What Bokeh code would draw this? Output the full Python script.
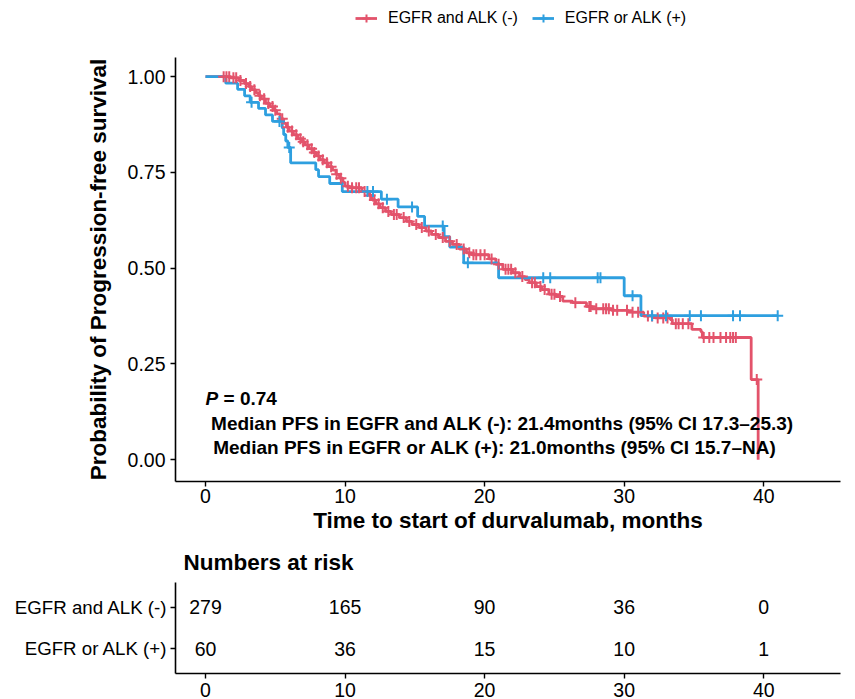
import numpy as np
from bokeh.plotting import figure
from bokeh.models import Range1d, FixedTicker, Legend, LegendItem, Label, ColumnDataSource
from bokeh.layouts import column
from bokeh.core.properties import value
from bokeh.embed import file_html
from bokeh.resources import INLINE

# ---------------- data ----------------
group_names = ["EGFR and ALK (-)", "EGFR or ALK (+)"]
colors = ["#E3536B", "#2E9FDF"]

# EGFR and ALK (-) : step times and survival after each step
neg_time = [0, 1.8, 2.4, 2.8, 3.1, 3.3, 3.6, 3.8, 4.0, 4.3, 4.6, 4.9, 5.1, 5.35, 5.6, 5.8, 6.0,
            6.3, 6.6, 6.9, 7.1, 7.4, 7.7, 7.95, 8.2, 8.5, 8.8, 9.1, 9.35, 9.6, 9.85, 10.0,
            10.3, 11.2, 11.7, 11.95, 12.2, 12.5, 12.9, 13.3, 13.9, 14.4, 14.8, 15.3, 15.8,
            16.2, 16.7, 17.2, 17.7, 18.2, 18.7, 19.1, 20.3, 20.8, 21.3, 22.0, 22.5, 22.9,
            23.2, 23.7, 24.1, 24.6, 25.1, 25.6, 26.3, 27.3, 27.7, 29.1, 30.3, 31.4, 32.2,
            33.3, 33.45, 34.85, 35.5, 35.6, 39.1, 39.6]
neg_surv = [1.0, 0.997, 0.99, 0.982, 0.974, 0.966, 0.958, 0.95, 0.942, 0.93, 0.922, 0.912, 0.903,
            0.89, 0.878, 0.868, 0.858, 0.848, 0.838, 0.83, 0.822, 0.812, 0.802, 0.793, 0.783,
            0.775, 0.765, 0.756, 0.745, 0.735, 0.724, 0.714, 0.71, 0.70, 0.69, 0.678, 0.668,
            0.658, 0.648, 0.64, 0.632, 0.622, 0.614, 0.606, 0.597, 0.588, 0.58, 0.57, 0.562,
            0.55, 0.54, 0.535, 0.524, 0.51, 0.497, 0.488, 0.478, 0.47, 0.462, 0.452, 0.444,
            0.432, 0.426, 0.414, 0.41, 0.40, 0.394, 0.39, 0.385, 0.375, 0.37, 0.366, 0.355,
            0.34, 0.334, 0.319, 0.209, 0.0]
neg_censor = [1.3, 1.5, 1.7, 2.0, 2.2, 2.5, 2.9, 3.2, 3.5, 3.9, 4.2, 4.5, 4.8, 5.0, 5.5, 5.9,
              6.2, 6.5, 6.8, 7.0, 7.3, 7.6, 7.8, 8.1, 8.4, 8.7, 9.0, 9.4, 9.7, 10.2, 10.5,
              10.8, 11.0, 11.4, 11.8, 12.1, 12.4, 12.7, 13.1, 13.5, 13.7, 14.2, 14.6, 15.1,
              15.5, 16.0, 16.5, 17.0, 17.5, 18.0, 18.5, 18.9, 19.2, 19.4, 19.7, 20.0, 20.5,
              21.0, 21.5, 21.7, 21.9, 22.2, 22.7, 23.4, 23.6, 24.0, 24.3, 24.8, 25.0, 25.4,
              26.5, 27.5, 27.6, 28.0, 28.5, 28.7, 28.9, 29.2, 29.5, 30.2, 30.6, 31.0, 31.7,
              32.0, 32.4, 32.8, 33.1, 33.7, 33.9, 34.2, 34.6, 35.7, 36.1, 36.4, 36.9, 37.3,
              37.6, 37.8, 38.0, 39.5]

# EGFR or ALK (+)
pos_time = [0, 1.45, 2.3, 2.8, 3.2, 3.8, 4.3, 4.8, 5.5, 5.6, 5.75, 5.9, 6.1, 7.9, 8.1, 8.9,
            9.8, 12.6, 13.8, 15.2, 15.7, 17.1, 17.5, 18.5, 21.0, 30.0, 31.2, 41.0]
pos_surv = [1.0, 0.983, 0.967, 0.95, 0.933, 0.917, 0.90, 0.883, 0.866, 0.849, 0.832, 0.815,
            0.775, 0.757, 0.739, 0.721, 0.70, 0.68, 0.66, 0.635, 0.61, 0.582, 0.555, 0.514,
            0.475, 0.428, 0.376, 0.376]
pos_censor = [3.3, 5.3, 6.0, 11.6, 12.0, 13.0, 14.8, 17.0, 18.8, 24.2, 24.7, 28.1, 28.3,
              30.6, 32.0, 33.0, 34.7, 35.5, 37.8, 38.3, 41.0]

risk_times = [0, 10, 20, 30, 40]
risk_neg = [279, 165, 90, 36, 0]
risk_pos = [60, 36, 15, 10, 1]

x_ticks = [0, 10, 20, 30, 40]
y_ticks = [0, 0.25, 0.5, 0.75, 1.0]
y_tick_labels = ["0.00", "0.25", "0.50", "0.75", "1.00"]

FONT = "Liberation Sans"
LW = 2.8


def surv_at(times, surv, t):
    idx = np.searchsorted(np.asarray(times), np.asarray(t), side="right") - 1
    return np.asarray(surv)[idx]


def style_axes(p):
    for ax in (p.xaxis[0], p.yaxis[0]):
        ax.axis_line_color = "black"
        ax.axis_line_width = 1.6
        ax.major_tick_line_color = "black"
        ax.major_tick_line_width = 1.4
        ax.major_tick_out = 5
        ax.major_tick_in = 0
        ax.minor_tick_line_color = None
        ax.major_label_text_font = FONT
        ax.major_label_text_color = "black"
        ax.axis_label_text_font = FONT
        ax.axis_label_text_font_style = "bold"
        ax.axis_label_text_color = "black"
    p.xgrid.grid_line_color = None
    p.ygrid.grid_line_color = None
    p.outline_line_color = None


# ---------------- legend strip ----------------
lg = figure(width=855, height=36, output_backend="svg", toolbar_location=None,
            x_range=Range1d(0, 1), y_range=Range1d(0, 1),
            x_axis_location=None, y_axis_location=None,
            min_border_left=0, min_border_right=0, min_border_top=0, min_border_bottom=0)
lg.xgrid.grid_line_color = None
lg.ygrid.grid_line_color = None
lg.outline_line_color = None
items = []
for name, c in zip(group_names, colors):
    # proxy renderers placed outside the visible range, used only for legend keys
    r1 = lg.line([-5, -4], [-5, -5], line_color=c, line_width=LW)
    r2 = lg.scatter([-5], [-5], marker="cross", size=11, line_color=c, line_width=2)
    items.append(LegendItem(label=name, renderers=[r1, r2]))
legend = Legend(items=items, orientation="horizontal", location=(180, 8),
                label_text_font=FONT, label_text_font_size="16px", label_text_color="black",
                glyph_width=22, glyph_height=20, label_standoff=11, spacing=14,
                padding=0, margin=0, border_line_alpha=0, background_fill_alpha=0)
lg.add_layout(legend)

# ---------------- main KM plot ----------------
p = figure(width=855, height=504, output_backend="svg", toolbar_location=None,
           x_range=Range1d(-2.15, 45.5), y_range=Range1d(-0.057, 1.05),
           min_border_left=175, min_border_right=15, min_border_top=21, min_border_bottom=59)
style_axes(p)
p.xaxis.ticker = FixedTicker(ticks=x_ticks)
p.yaxis.ticker = FixedTicker(ticks=y_ticks)
p.yaxis.major_label_overrides = {t: l for t, l in zip(y_ticks, y_tick_labels)}
p.xaxis.major_label_text_font_size = "19.5px"
p.yaxis.major_label_text_font_size = "19.5px"
p.xaxis.axis_label = "Time to start of durvalumab, months"
p.yaxis.axis_label = "Probability of Progression-free survival"
p.xaxis.axis_label_text_font_size = "22.5px"
p.yaxis.axis_label_text_font_size = "22.5px"
p.xaxis.major_label_standoff = 2
p.xaxis.axis_label_standoff = 2
p.yaxis.major_label_standoff = 5
p.yaxis.axis_label_standoff = 14

p.step(neg_time, neg_surv, mode="after", line_color=colors[0], line_width=LW)
p.step(pos_time, pos_surv, mode="after", line_color=colors[1], line_width=LW)
p.scatter(neg_censor, surv_at(neg_time, neg_surv, neg_censor), marker="cross", size=11,
          line_color=colors[0], line_width=2)
p.scatter(pos_censor, surv_at(pos_time, pos_surv, pos_censor), marker="cross", size=11,
          line_color=colors[1], line_width=2)

# annotations
p.add_layout(Label(x=0, y=0.159, text="P", text_font=FONT, text_font_size="19px",
                   text_font_style="bold italic", text_baseline="middle", text_color="black"))
p.add_layout(Label(x=0, y=0.159, x_offset=18, text="= 0.74", text_font=FONT,
                   text_font_size="19px", text_font_style="bold", text_baseline="middle",
                   text_color="black"))
p.add_layout(Label(x=0.4, y=0.094,
                   text="Median PFS in EGFR and ALK (-): 21.4months (95% CI 17.3\u201325.3)",
                   text_font=FONT, text_font_size="19px", text_font_style="bold",
                   text_baseline="middle", text_color="black"))
p.add_layout(Label(x=0.55, y=0.031,
                   text="Median PFS in EGFR or ALK (+): 21.0months (95% CI 15.7\u2013NA)",
                   text_font=FONT, text_font_size="19px", text_font_style="bold",
                   text_baseline="middle", text_color="black"))

# ---------------- risk table ----------------
t = figure(width=855, height=159, output_backend="svg", toolbar_location=None,
           x_range=Range1d(-2.15, 45.5), y_range=Range1d(0.4, 2.6),
           min_border_left=175, min_border_right=15, min_border_top=41, min_border_bottom=26)
style_axes(t)
t.title.text = "Numbers at risk"
t.title.text_font = FONT
t.title.text_font_size = "22.5px"
t.title.text_font_style = "bold"
t.title.text_color = "black"
t.title.offset = 8
t.title.standoff = 15
t.xaxis.ticker = FixedTicker(ticks=x_ticks)
t.yaxis.ticker = FixedTicker(ticks=[1, 2])
t.yaxis.major_label_overrides = {1: group_names[1], 2: group_names[0]}
t.xaxis.major_label_text_font_size = "19.5px"
t.yaxis.major_label_text_font_size = "18.7px"
t.xaxis.major_label_standoff = 4
t.yaxis.major_label_standoff = 3

src = ColumnDataSource(dict(
    x=risk_times + risk_times,
    y=[2] * len(risk_times) + [1] * len(risk_times),
    txt=[str(v) for v in risk_neg] + [str(v) for v in risk_pos]))
t.text(x="x", y="y", text="txt", source=src, text_align="center", text_baseline="middle",
       text_font_size=value("19.5px"), text_color="black", text_font=value(FONT))

layout = column(lg, p, t, spacing=0)
open("out.html", "w").write(file_html(layout, INLINE))
